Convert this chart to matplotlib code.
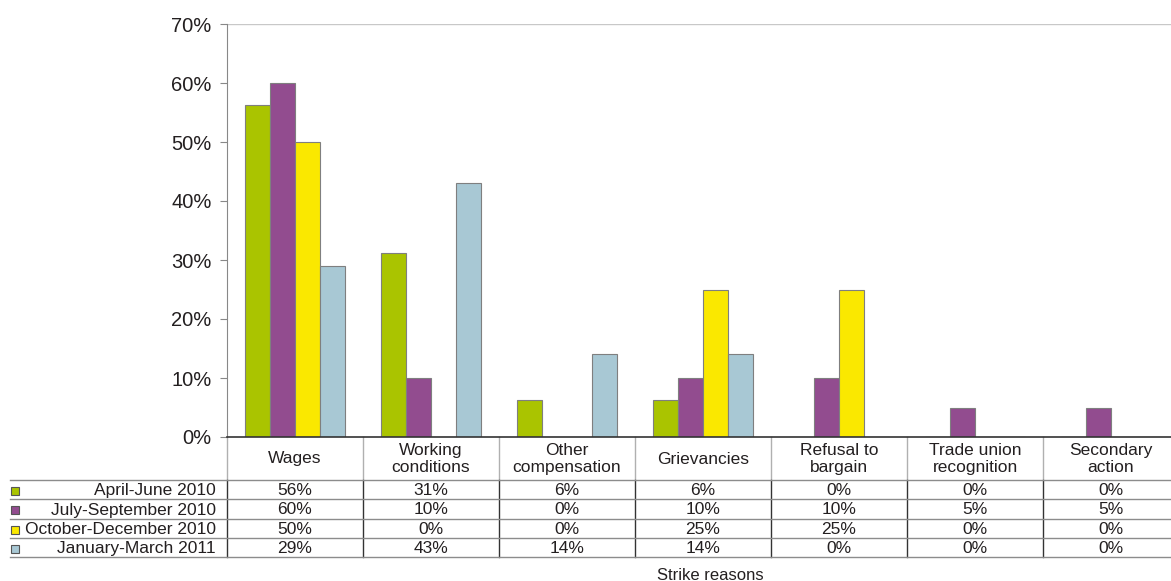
import matplotlib
matplotlib.use('Agg')
import matplotlib.pyplot as plt
from matplotlib.lines import Line2D
from matplotlib.patches import Rectangle
from matplotlib.transforms import blended_transform_factory

plt.rcParams['font.family'] = ['Liberation Sans', 'DejaVu Sans']

# strike reasons and share of strikes per quarter (%)
reasons = ['Wages', 'Working\nconditions', 'Other\ncompensation', 'Grievancies',
           'Refusal to\nbargain', 'Trade union\nrecognition', 'Secondary\naction']
periods = ['April-June 2010', 'July-September 2010',
           'October-December 2010', 'January-March 2011']
apr_jun = [56.25, 31.25, 6.25, 6.25, 0, 0, 0]
jul_sep = [60, 10, 0, 10, 10, 5, 5]
oct_dec = [50, 0, 0, 25, 25, 0, 0]
jan_mar = [29, 43, 14, 14, 0, 0, 0]
series = [apr_jun, jul_sep, oct_dec, jan_mar]

colors = ['#aac400', '#924c8f', '#fae800', '#a8c8d4']
edge = '#7f7f7f'
txt = '#231f20'

W, H = 1171, 581
fig = plt.figure(figsize=(W / 100, H / 100), dpi=100)

def fy(py):
    return 1 - py / H

ax = fig.add_axes([227 / W, fy(437), 952 / W, fy(24) - fy(437)])

bw = 0.184
n = len(reasons)
for i, vals in enumerate(series):
    xs = [k + (i - 1.5) * bw for k in range(n)]
    ax.bar(xs, vals, width=bw, color=colors[i], edgecolor=edge, linewidth=0.8)

ax.set_xlim(-0.5, n - 0.5)
ax.set_ylim(0, 70)
ax.set_yticks(range(0, 71, 10))
ax.set_yticklabels(['%d%%' % v for v in range(0, 71, 10)], fontsize=14.5, color=txt)
ax.tick_params(axis='y', length=5, color='#888888', pad=6)
ax.set_xticks([])
ax.axhline(70, color='#c8c8c8', lw=1)
for s in ['top', 'right']:
    ax.spines[s].set_visible(False)
ax.spines['left'].set_color('#888888')
ax.spines['bottom'].set_color('#333333')
ax.spines['bottom'].set_linewidth(1.2)

# data table under the bars
tr = blended_transform_factory(ax.transData, fig.transFigure)
row_lines = [480, 499, 519, 538, 557]
for py in row_lines:
    fig.add_artist(Line2D([10 / W, 1], [fy(py), fy(py)], transform=fig.transFigure,
                          color='#8c8c8c', lw=1))
for k in range(n + 1):
    x = k - 0.5
    ax.add_line(Line2D([x, x], [fy(437), fy(480)], transform=tr, color='#b0b0b0',
                       lw=1, clip_on=False))
    ax.add_line(Line2D([x, x], [fy(480), fy(557)], transform=tr, color='#333333',
                       lw=1, clip_on=False))

for k, name in enumerate(reasons):
    ax.text(k, fy(459), name, transform=tr, ha='center', va='center',
            fontsize=12.5, color=txt, linespacing=1.15)

for i, vals in enumerate(series):
    yc = fy((row_lines[i] + row_lines[i + 1]) / 2 + 1)
    for k, v in enumerate(vals):
        ax.text(k, yc, '%.0f%%' % v, transform=tr, ha='center', va='center',
                fontsize=12.5, color=txt)
    fig.text(216 / W, yc, periods[i], ha='right', va='center', fontsize=12.5, color=txt)
    fig.add_artist(Rectangle((11 / W, yc - 4 / H), 8 / W, 8 / H, transform=fig.transFigure,
                             facecolor=colors[i], edgecolor='#555555', lw=0.8))

fig.text(710 / W, fy(575), 'Strike reasons', ha='center', va='center',
         fontsize=12, color=txt)

fig.savefig('out.png', dpi=100)
